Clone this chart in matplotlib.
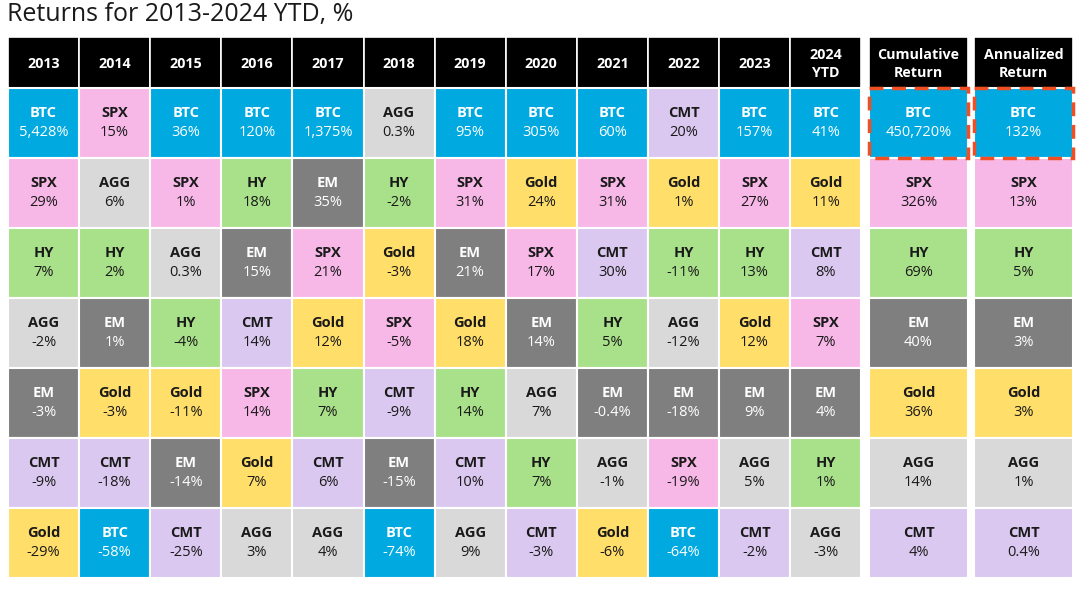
import matplotlib.pyplot as plt
from matplotlib.patches import Rectangle

plt.rcParams['font.family'] = ['Open Sans', 'DejaVu Sans']

# Data
headers = ['2013', '2014', '2015', '2016', '2017', '2018', '2019', '2020',
           '2021', '2022', '2023', '2024\nYTD', 'Cumulative\nReturn', 'Annualized\nReturn']

assets = [
    ['BTC', 'SPX', 'HY', 'AGG', 'EM', 'CMT', 'Gold'],
    ['SPX', 'AGG', 'HY', 'EM', 'Gold', 'CMT', 'BTC'],
    ['BTC', 'SPX', 'AGG', 'HY', 'Gold', 'EM', 'CMT'],
    ['BTC', 'HY', 'EM', 'CMT', 'SPX', 'Gold', 'AGG'],
    ['BTC', 'EM', 'SPX', 'Gold', 'HY', 'CMT', 'AGG'],
    ['AGG', 'HY', 'Gold', 'SPX', 'CMT', 'EM', 'BTC'],
    ['BTC', 'SPX', 'EM', 'Gold', 'HY', 'CMT', 'AGG'],
    ['BTC', 'Gold', 'SPX', 'EM', 'AGG', 'HY', 'CMT'],
    ['BTC', 'SPX', 'CMT', 'HY', 'EM', 'AGG', 'Gold'],
    ['CMT', 'Gold', 'HY', 'AGG', 'EM', 'SPX', 'BTC'],
    ['BTC', 'SPX', 'HY', 'Gold', 'EM', 'AGG', 'CMT'],
    ['BTC', 'Gold', 'CMT', 'SPX', 'EM', 'HY', 'AGG'],
    ['BTC', 'SPX', 'HY', 'EM', 'Gold', 'AGG', 'CMT'],
    ['BTC', 'SPX', 'HY', 'EM', 'Gold', 'AGG', 'CMT'],
]

returns = [
    ['5,428%', '29%', '7%', '-2%', '-3%', '-9%', '-29%'],
    ['15%', '6%', '2%', '1%', '-3%', '-18%', '-58%'],
    ['36%', '1%', '0.3%', '-4%', '-11%', '-14%', '-25%'],
    ['120%', '18%', '15%', '14%', '14%', '7%', '3%'],
    ['1,375%', '35%', '21%', '12%', '7%', '6%', '4%'],
    ['0.3%', '-2%', '-3%', '-5%', '-9%', '-15%', '-74%'],
    ['95%', '31%', '21%', '18%', '14%', '10%', '9%'],
    ['305%', '24%', '17%', '14%', '7%', '7%', '-3%'],
    ['60%', '31%', '30%', '5%', '-0.4%', '-1%', '-6%'],
    ['20%', '1%', '-11%', '-12%', '-18%', '-19%', '-64%'],
    ['157%', '27%', '13%', '12%', '9%', '5%', '-2%'],
    ['41%', '11%', '8%', '7%', '4%', '1%', '-3%'],
    ['450,720%', '326%', '69%', '40%', '36%', '14%', '4%'],
    ['132%', '13%', '5%', '3%', '3%', '1%', '0.4%'],
]

colors = {
    'BTC': '#00A9E0', 'SPX': '#F7B8E8', 'AGG': '#D9D9D9', 'HY': '#A9E08A',
    'EM': '#7F7F7F', 'Gold': '#FFDE6A', 'CMT': '#DAC8F0',
}
light_text = {'BTC', 'EM'}

fig = plt.figure(figsize=(10.8, 5.89), dpi=100)
ax = fig.add_axes([0, 0, 1, 1])
ax.set_xlim(0, 1080)
ax.set_ylim(589, 0)
ax.axis('off')

# column geometry (pixels)
col_w = 71.1
lefts = [8 + i * col_w for i in range(12)] + [869, 974]
widths = [col_w] * 12 + [99, 99]
head_top, head_h = 37, 51
row_h = 70

ax.text(7, 15, 'Returns for 2013-2024 YTD, %', fontsize=18,
        ha='left', va='center', color='#1a1a1a')

for c, head in enumerate(headers):
    x, w = lefts[c], widths[c]
    ax.add_patch(Rectangle((x, head_top), w, head_h, facecolor='black',
                           edgecolor='white', linewidth=1.2))
    ax.text(x + w / 2, head_top + head_h / 2 + 1.5, head, color='white',
            fontsize=10.3, fontweight='bold', ha='center', va='center',
            linespacing=1.45)
    for r in range(7):
        y = head_top + head_h + r * row_h
        a = assets[c][r]
        ax.add_patch(Rectangle((x, y), w, row_h, facecolor=colors[a],
                               edgecolor='white', linewidth=1.5))
        tc = 'white' if a in light_text else '#1a1a1a'
        ax.text(x + w / 2, y + row_h / 2 - 10, a, color=tc, fontsize=10.5,
                fontweight='bold', ha='center', va='center')
        ax.text(x + w / 2, y + row_h / 2 + 10, returns[c][r], color=tc,
                fontsize=10.5, ha='center', va='center')

# highlight BTC in cumulative and annualized columns
for c in (12, 13):
    ax.add_patch(Rectangle((lefts[c], head_top + head_h), widths[c], row_h,
                           fill=False, edgecolor='#F04E23', linewidth=2.5,
                           linestyle=(0, (4, 2.5))))

plt.savefig('out.png', dpi=100)
